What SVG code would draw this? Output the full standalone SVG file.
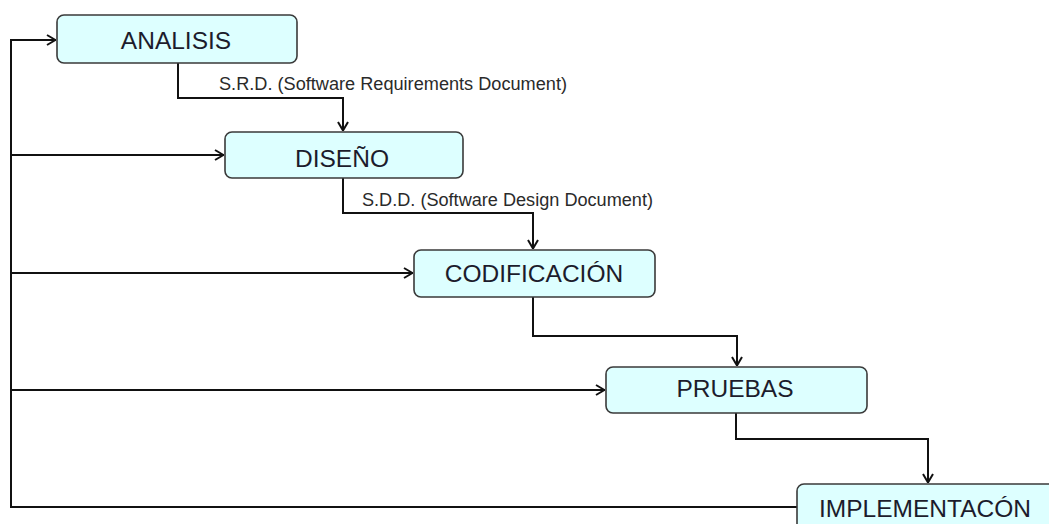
<svg xmlns="http://www.w3.org/2000/svg" width="1049" height="524" viewBox="0 0 1049 524">
<defs>
<style>
.box{fill:#ddffff;stroke:#3a3a3a;stroke-width:1.6}
.lbl{font-family:"Liberation Sans",Arial,sans-serif;font-size:24.5px;fill:#1c1c2c;text-anchor:middle}
.doc{font-family:"Liberation Sans",Arial,sans-serif;font-size:17.5px;fill:#2a2a2a}
.ln{fill:none;stroke:#111;stroke-width:2}
</style>
<marker id="ah" viewBox="0 0 10 12" refX="10" refY="6" markerWidth="10" markerHeight="12" markerUnits="userSpaceOnUse" orient="auto">
<path d="M1,1 L9.5,6 L1,11" fill="none" stroke="#111" stroke-width="2"/>
</marker>
</defs>
<rect width="1049" height="524" fill="#ffffff"/>
<g id="connectors">
<path class="ln" d="M797,507 H11 V40 H56" marker-end="url(#ah)"/>
<path class="ln" d="M11,155 H224" marker-end="url(#ah)"/>
<path class="ln" d="M11,273 H413" marker-end="url(#ah)"/>
<path class="ln" d="M11,390 H605" marker-end="url(#ah)"/>
<path class="ln" d="M178,63 V98 H343 V131" marker-end="url(#ah)"/>
<path class="ln" d="M343,178 V213 H533 V249" marker-end="url(#ah)"/>
<path class="ln" d="M533,297 V336 H737 V366" marker-end="url(#ah)"/>
<path class="ln" d="M736,413 V439 H928 V483" marker-end="url(#ah)"/>
<text class="doc" x="219" y="90" textLength="348" lengthAdjust="spacingAndGlyphs">S.R.D. (Software Requirements Document)</text>
<text class="doc" x="362" y="206" textLength="291" lengthAdjust="spacingAndGlyphs">S.D.D. (Software Design Document)</text>
</g>
<g id="analisis">
<rect class="box" x="57" y="15" width="240" height="48" rx="7"/>
<text class="lbl" x="176" y="49">ANALISIS</text>
</g>
<g id="diseno">
<rect class="box" x="225" y="132" width="238" height="46" rx="7"/>
<text class="lbl" x="342" y="167">DISEÑO</text>
</g>
<g id="codificacion">
<rect class="box" x="414" y="250" width="241" height="47" rx="7"/>
<text class="lbl" x="534" y="282">CODIFICACIÓN</text>
</g>
<g id="pruebas">
<rect class="box" x="606" y="367" width="261" height="46" rx="7"/>
<text class="lbl" x="735" y="397">PRUEBAS</text>
</g>
<g id="implementacion">
<rect class="box" x="797" y="484" width="258" height="48" rx="7"/>
<text class="lbl" x="925" y="517">IMPLEMENTACÓN</text>
</g>
</svg>
